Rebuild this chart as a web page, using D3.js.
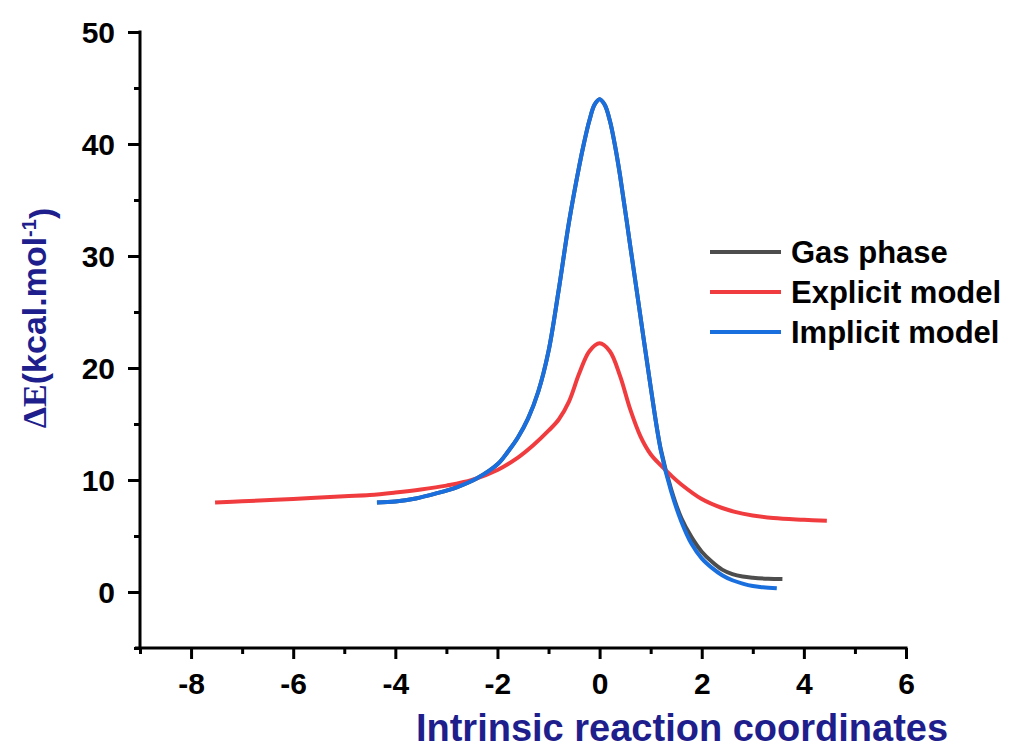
<!DOCTYPE html>
<html>
<head>
<meta charset="utf-8">
<script src="https://cdn.jsdelivr.net/npm/d3@7"></script>
<style>
body { margin: 0; background: #fff; }
text { font-family: "Liberation Sans", Arial, sans-serif; font-weight: bold; }
</style>
</head>
<body>
<div id="chart"></div>
<script>
// IRC energy profiles (x = reaction coordinate, y = kcal/mol)
var gasX = [-4.36, -4.0, -3.6, -3.2, -2.8, -2.4, -2.0, -1.8, -1.6, -1.4, -1.2, -1.0, -0.8, -0.6, -0.4, -0.3, -0.2, -0.1, 0, 0.1, 0.2, 0.3, 0.4, 0.6, 0.8, 1.0, 1.2, 1.4, 1.6, 1.8, 2.0, 2.2, 2.4, 2.6, 2.8, 3.0, 3.3, 3.58];
var gasY = [8.0, 8.08, 8.35, 8.8, 9.35, 10.15, 11.4, 12.5, 13.8, 15.5, 17.9, 21.5, 27.0, 33.0, 38.0, 40.2, 42.1, 43.5, 44.0, 43.5, 42.1, 39.9, 37.2, 30.9, 24.6, 18.3, 12.7, 9.2, 6.6, 4.9, 3.6, 2.7, 2.0, 1.6, 1.38, 1.27, 1.18, 1.15];

var explicitX = [-7.53, -7.0, -6.0, -5.0, -4.5, -4.0, -3.5, -3.0, -2.5, -2.0, -1.6, -1.3, -1.0, -0.8, -0.6, -0.4, -0.2, 0, 0.2, 0.4, 0.6, 0.8, 1.0, 1.2, 1.4, 1.6, 2.0, 2.4, 2.8, 3.4, 4.0, 4.45];
var explicitY = [8.0, 8.1, 8.3, 8.55, 8.66, 8.88, 9.15, 9.5, 10.0, 10.9, 12.0, 13.1, 14.4, 15.4, 17.0, 19.5, 21.5, 22.2, 21.5, 19.3, 16.3, 13.9, 12.3, 11.3, 10.4, 9.6, 8.3, 7.5, 7.0, 6.6, 6.45, 6.37];

var implicitX = [-4.36, -4.0, -3.6, -3.2, -2.8, -2.4, -2.0, -1.8, -1.6, -1.4, -1.2, -1.0, -0.8, -0.6, -0.4, -0.3, -0.2, -0.1, 0, 0.1, 0.2, 0.3, 0.4, 0.6, 0.8, 1.0, 1.2, 1.4, 1.6, 1.8, 2.0, 2.2, 2.4, 2.6, 2.8, 3.0, 3.2, 3.47];
var implicitY = [8.0, 8.08, 8.35, 8.8, 9.35, 10.15, 11.4, 12.5, 13.8, 15.5, 17.9, 21.5, 27.0, 33.0, 38.0, 40.2, 42.1, 43.5, 44.0, 43.5, 42.1, 39.9, 37.2, 30.9, 24.6, 18.3, 12.6, 9.0, 6.3, 4.3, 3.0, 2.15, 1.5, 1.05, 0.75, 0.53, 0.42, 0.33];

var seriesNames = ["Gas phase", "Explicit model", "Implicit model"];
var seriesColors = ["#4d4d4d", "#f03c3e", "#1a6fdf"];
var xTicks = [-8, -6, -4, -2, 0, 2, 4, 6];
var xMinor = [-9, -7, -5, -3, -1, 1, 3, 5];
var yTicks = [0, 10, 20, 30, 40, 50];
var yMinor = [-5, 5, 15, 25, 35, 45];

var width = 1013, height = 749;
var svg = d3.select("#chart").append("svg").attr("width", width).attr("height", height);

var x = d3.scaleLinear().domain([-9, 6]).range([140, 906]);
var y = d3.scaleLinear().domain([-5, 50]).range([648, 32]);

function zip(xs, ys) {
	var out = [];
	for (var i = 0; i < xs.length; i++) { out.push([xs[i], ys[i]]); }
	return out;
}
var series = [zip(gasX, gasY), zip(explicitX, explicitY), zip(implicitX, implicitY)];

var line = d3.line()
	.x(function(d) { return x(d[0]); })
	.y(function(d) { return y(d[1]); })
	.curve(d3.curveCatmullRom.alpha(0.5));

// curves (gas first so the implicit one sits on top of it)
for (var i = 0; i < series.length; i++) {
	svg.append("path")
		.attr("d", line(series[i]))
		.style("fill", "none")
		.style("stroke", seriesColors[i])
		.style("stroke-width", 4);
}

// axes
var xAxis = svg.append("g")
	.attr("transform", "translate(0," + y(-5) + ")")
	.call(d3.axisBottom(x).tickValues(xTicks).tickSize(11).tickSizeOuter(0).tickPadding(8).tickFormat(String));
var xAxisMinor = svg.append("g")
	.attr("transform", "translate(0," + y(-5) + ")")
	.call(d3.axisBottom(x).tickValues(xMinor).tickSize(6).tickSizeOuter(0).tickFormat(""));
var yAxis = svg.append("g")
	.attr("transform", "translate(" + x(-9) + ",0)")
	.call(d3.axisLeft(y).tickValues(yTicks).tickSize(12).tickSizeOuter(0).tickPadding(13).tickFormat(String));
var yAxisMinor = svg.append("g")
	.attr("transform", "translate(" + x(-9) + ",0)")
	.call(d3.axisLeft(y).tickValues(yMinor).tickSize(6).tickSizeOuter(0).tickFormat(""));

[xAxis, xAxisMinor, yAxis, yAxisMinor].forEach(function(g) {
	g.selectAll("line").style("stroke", "#000").style("stroke-width", 3);
	g.select(".domain").remove();
	g.selectAll("text").style("font-size", "30px").style("fill", "#000")
		.style("font-family", "'Liberation Sans', Arial, sans-serif").style("font-weight", "bold");
});
xAxis.selectAll("text").attr("dy", "0.9em");
yAxis.selectAll("text").attr("dy", "0.36em");

// axis lines drawn by hand so they meet at the corner
svg.append("line")
	.attr("x1", x(-9) - 5).attr("x2", x(6) + 1.5)
	.attr("y1", y(-5)).attr("y2", y(-5))
	.style("stroke", "#000").style("stroke-width", 3);
svg.append("line")
	.attr("x1", x(-9)).attr("x2", x(-9))
	.attr("y1", y(50) - 1.5).attr("y2", y(-5) + 1.5)
	.style("stroke", "#000").style("stroke-width", 3);

// axis titles
svg.append("text")
	.attr("x", 682)
	.attr("y", 741)
	.style("text-anchor", "middle")
	.style("font-size", "38px")
	.style("fill", "#1e1e8c")
	.text("Intrinsic reaction coordinates");

var ylab = svg.append("text")
	.attr("transform", "translate(46,318) rotate(-90)")
	.style("text-anchor", "middle")
	.style("font-size", "34px")
	.style("fill", "#1e1e8c");
ylab.append("tspan").style("font-family", "'Liberation Serif', 'Times New Roman', serif").text("\u0394E");
ylab.append("tspan").text("(kcal.mol");
ylab.append("tspan").attr("dy", "-0.5em").style("font-size", "20px").text("-1");
ylab.append("tspan").attr("dy", "0.5em").text(")");

// legend
var legendY = [252, 292, 332];
for (var j = 0; j < seriesNames.length; j++) {
	svg.append("line")
		.attr("x1", 710).attr("x2", 781)
		.attr("y1", legendY[j]).attr("y2", legendY[j])
		.style("stroke", seriesColors[j])
		.style("stroke-width", 4);
	svg.append("text")
		.attr("x", 791)
		.attr("y", legendY[j])
		.attr("dy", "0.36em")
		.style("font-size", "31px")
		.style("fill", "#000")
		.text(seriesNames[j]);
}
</script>
</body>
</html>
